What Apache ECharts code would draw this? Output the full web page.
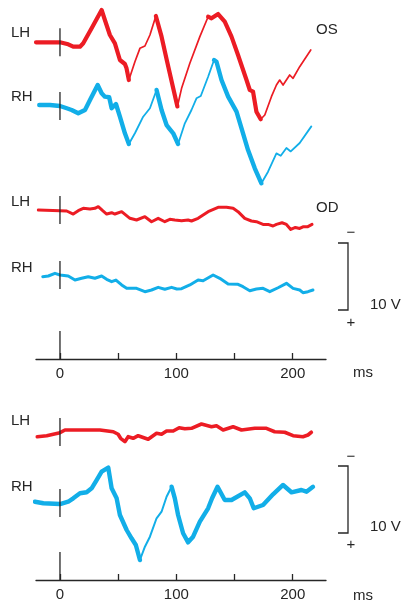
<!DOCTYPE html>
<html>
<head>
<meta charset="utf-8">
<script src="https://cdn.jsdelivr.net/npm/echarts@6/dist/echarts.min.js"></script>
<style>
  html, body { margin: 0; padding: 0; background: #fff; }
  #chart { width: 404px; height: 603px; }
</style>
</head>
<body>
<div id="chart"></div>
<script>
// Time axis (ms) and tick labels
const timeTicks = [0, 50, 100, 150, 200];
const timeLabels = [0, 100, 200];

// Amplitudes in microvolts; positive values plot downward (negative-up convention)
// Panel 1 – OS, left hemisphere
const osLhMs = [-20.6, 0, 7.1, 11.4, 17.2, 20.0, 27.2, 35.8, 38.6, 42.9, 47.2, 51.5, 55.8, 57.2, 59.2, 64.4, 68.7, 73.0, 77.3, 82.4, 87.3, 92.1, 97.3, 100.9, 104.5, 111.6, 120.2, 127.3, 130.2, 135.9, 141.6, 147.4, 153.0, 160.3, 163.1, 165.9, 168.8, 172.5, 176.0, 181.7, 186.0, 188.8, 191.7, 197.4, 200.3, 206.0, 215.5];
const osLhUv = [0, 0, 0.3, 0.66, 0.66, 0.15, -2.09, -4.82, -3.33, -1.09, 0.15, 2.64, 3.24, 3.88, 5.63, 2.90, 0.90, 0.55, -1.09, -3.93, -0.84, 2.90, 6.87, 9.58, 6.87, 3.13, -0.84, -3.82, -3.58, -4.22, -3.07, -0.84, 1.90, 5.63, 7.12, 7.37, 10.36, 11.49, 10.85, 8.12, 6.37, 5.63, 6.37, 4.88, 5.37, 3.64, 1.15];
// Panel 1 – OS, right hemisphere
const osRhMs = [-17.8, -8.6, 0, 5.8, 10.0, 15.7, 21.5, 25.8, 32.4, 35.8, 38.6, 42.3, 44.4, 48.1, 51.5, 55.8, 59.2, 64.4, 71.5, 77.3, 83.0, 87.3, 91.6, 97.3, 101.5, 107.3, 113.0, 117.3, 121.0, 127.3, 132.4, 134.5, 138.8, 144.5, 151.7, 157.3, 161.6, 167.4, 173.1, 178.8, 186.0, 189.7, 194.6, 198.3, 206.0, 216.0];
const osRhUv = [-0.15, -0.15, 0, 0.34, 0.60, 1.09, 0.60, -0.90, -3.13, -1.90, -1.39, -1.30, 0.34, -0.30, 1.60, 4.07, 5.67, 4.07, 1.60, 0.34, -2.39, 0.60, 2.84, 4.07, 5.67, 2.58, 0.60, -1.15, -1.49, -4.37, -6.87, -6.61, -3.88, -1.39, 0.85, 4.07, 6.57, 9.30, 11.54, 9.81, 7.07, 7.42, 6.27, 6.78, 5.52, 3.04];
// Panel 1 – OD, left hemisphere
const odLhMs = [-18.6, 0, 5.8, 11.4, 15.7, 20.0, 25.8, 30.0, 32.9, 36.7, 40.1, 44.4, 47.2, 53.0, 60.1, 65.8, 73.0, 78.7, 84.4, 90.1, 94.4, 98.7, 104.5, 110.1, 113.0, 118.7, 127.3, 135.9, 143.1, 148.8, 153.0, 158.8, 164.5, 168.8, 174.5, 178.8, 183.1, 186.0, 190.8, 194.6, 198.3, 202.3, 206.0, 208.8, 212.6, 216.6];
const odLhUv = [0, 0.1, 0.15, 0.60, 0.10, -0.25, -0.15, -0.25, -0.49, 0.10, 0.60, 0.40, 0.60, 0.25, 1.24, 1.49, 1.00, 1.75, 1.24, 1.75, 1.39, 1.49, 1.60, 1.49, 1.64, 1.24, 0.25, -0.40, -0.40, -0.25, 0.25, 1.24, 1.64, 1.75, 2.15, 2.15, 2.39, 2.15, 1.90, 2.15, 2.90, 2.60, 2.75, 2.51, 2.51, 2.15];
// Panel 1 – OD, right hemisphere
const odRhMs = [-14.8, -10.0, -4.3, 0, 7.1, 12.9, 18.6, 24.3, 30.0, 35.8, 40.1, 44.4, 48.1, 53.0, 57.3, 65.8, 73.0, 78.7, 84.4, 90.1, 95.9, 100.4, 104.5, 111.6, 118.7, 123.0, 131.6, 137.3, 144.5, 153.0, 157.3, 163.1, 168.8, 174.5, 180.3, 187.4, 194.6, 200.3, 206.0, 208.8, 213.1, 217.4];
const odRhUv = [0.25, 0.15, -0.25, 0, 0.15, 0.75, 0.49, 0.25, 0.49, 0.15, 0.64, 1.00, 0.75, 1.49, 1.99, 1.99, 2.49, 2.24, 1.84, 2.13, 1.84, 2.09, 2.04, 1.49, 0.75, 0.85, 0, 0.49, 1.34, 1.39, 1.75, 2.34, 2.09, 1.99, 2.49, 1.90, 1.24, 1.99, 2.24, 2.64, 2.49, 2.24];
// Panel 2 – left hemisphere
const p2LhMs = [-19.5, -11.4, 0, 4.3, 17.2, 34.3, 45.8, 50.0, 52.1, 55.8, 58.6, 62.9, 67.2, 75.8, 83.0, 87.3, 91.6, 97.3, 102.4, 107.3, 113.0, 121.6, 130.2, 134.5, 140.2, 148.8, 156.0, 167.4, 177.4, 184.5, 193.1, 200.3, 208.8, 213.1, 216.0];
const p2LhUv = [0.70, 0.55, 0.10, -0.30, -0.30, -0.30, -0.04, 0.34, 0.94, 1.45, 0.70, 0.94, 0.55, 1.09, 0.19, 0.34, -0.15, -0.15, -0.64, -0.49, -0.55, -1.19, -0.79, -0.94, -0.30, -0.79, -0.30, -0.55, -0.55, -0.04, 0.04, 0.55, 0.70, 0.45, 0.04];
// Panel 2 – right hemisphere
const p2RhMs = [-21.5, -14.3, 0, 7.1, 11.4, 17.2, 22.9, 27.2, 31.5, 35.8, 41.5, 44.4, 48.7, 51.5, 57.3, 61.5, 65.2, 68.7, 73.0, 77.3, 83.0, 87.3, 91.6, 95.9, 98.7, 101.5, 105.8, 110.1, 114.4, 120.2, 127.3, 130.7, 135.4, 141.6, 147.4, 158.8, 163.1, 166.5, 174.5, 183.1, 191.7, 198.9, 207.5, 211.8, 217.4];
const p2RhUv = [-0.19, 0.04, 0.15, -0.19, -0.70, -1.45, -1.60, -2.19, -3.43, -4.67, -5.28, -2.19, -0.70, 1.79, 4.03, 5.27, 6.27, 8.51, 6.52, 5.03, 2.28, 1.30, -0.94, -2.43, -0.70, 1.79, 4.52, 5.87, 5.03, 2.79, 0.79, -0.70, -2.43, -0.45, -0.45, -1.60, -0.70, 0.79, 0.30, -1.30, -2.69, -1.60, -1.94, -1.69, -2.43];

// Calibration bar height (microvolts)
const calibUv = 10;

// ---- layout & style ----
const RED = '#ec1c24';
const BLUE = '#12aee8';
const INK = '#262626';
const FONT = '"Liberation Sans", Arial, Helvetica, sans-serif';
const X_MIN = -20.6, X_MAX = 228.6;
const PLOT_LEFT = 36, PLOT_WIDTH = 290;
const PX_PER_UV = 6.7;
const Y_SPAN = 12;

const traces = [
  { ms: osLhMs, uv: osLhUv, color: RED,  base: 42.3,  thick: 4.2, thin: 1.7, thinSpans: [[59.2, 82.4], [100.9, 127.3], [172.5, 230]] },
  { ms: osRhMs, uv: osRhUv, color: BLUE, base: 106,   thick: 4.4, thin: 1.8, thinSpans: [[59.2, 83.0], [101.5, 132.4], [173.1, 230]] },
  { ms: odLhMs, uv: odLhUv, color: RED,  base: 210,   thick: 3.0, thin: 3.0, thinSpans: [] },
  { ms: odRhMs, uv: odRhUv, color: BLUE, base: 275,   thick: 3.0, thin: 3.0, thinSpans: [] },
  { ms: p2LhMs, uv: p2LhUv, color: RED,  base: 432,   thick: 3.6, thin: 3.6, thinSpans: [] },
  { ms: p2RhMs, uv: p2RhUv, color: BLUE, base: 503,   thick: 4.4, thin: 2.0, thinSpans: [[68.7, 95.9]] }
];

const grid = [], xAxis = [], yAxis = [], series = [];

function hiddenX(k, min, max) { return { type: 'value', gridIndex: k, show: false, min: min, max: max }; }
function hiddenY(k, min, max, inverse) { return { type: 'value', gridIndex: k, show: false, min: min, max: max, inverse: !!inverse }; }

// one grid per trace, all sharing the same µV scale
traces.forEach(function (t) {
  const k = grid.length;
  grid.push({ left: PLOT_LEFT, width: PLOT_WIDTH, top: t.base - Y_SPAN * PX_PER_UV, height: 2 * Y_SPAN * PX_PER_UV, outerBoundsMode: 'none', containLabel: false });
  xAxis.push(hiddenX(k, X_MIN, X_MAX));
  yAxis.push(hiddenY(k, -Y_SPAN, Y_SPAN, true));

  // split the waveform into runs of thick / thin pen
  const isThin = function (m) { return t.thinSpans.some(function (s) { return m >= s[0] && m <= s[1]; }); };
  let run = [[t.ms[0], t.uv[0]]];
  let runThin = isThin((t.ms[0] + t.ms[1]) / 2);
  const flush = function () {
    series.push({
      type: 'line', xAxisIndex: k, yAxisIndex: k, data: run, showSymbol: false, silent: true,
      clip: false, animation: false, z: 2,
      lineStyle: { color: t.color, width: runThin ? t.thin : t.thick, cap: 'round', join: 'round' }
    });
  };
  for (let i = 1; i < t.ms.length; i++) {
    const thin = isThin((t.ms[i - 1] + t.ms[i]) / 2);
    if (thin !== runThin) {
      flush();
      run = [[t.ms[i - 1], t.uv[i - 1]]];
      runThin = thin;
    }
    run.push([t.ms[i], t.uv[i]]);
  }
  flush();

  // stimulus-onset marker at t = 0
  series.push({
    type: 'line', xAxisIndex: k, yAxisIndex: k, data: [[0, -2.1], [0, 2.1]], showSymbol: false,
    silent: true, clip: false, animation: false, z: 3,
    lineStyle: { color: INK, width: 1.3 }
  });
});

// time axes (one per panel) with a tall onset tick
[{ top: 331, height: 28 }, { top: 552, height: 28 }].forEach(function (a) {
  const k = grid.length;
  grid.push({ left: PLOT_LEFT, width: PLOT_WIDTH, top: a.top, height: a.height, outerBoundsMode: 'none', containLabel: false });
  xAxis.push({
    type: 'value', gridIndex: k, min: X_MIN, max: X_MAX, position: 'bottom',
    splitLine: { show: false },
    axisLine: { show: true, onZero: false, lineStyle: { color: INK, width: 1.3 } },
    axisTick: { show: true, inside: true, length: 6, customValues: timeTicks, lineStyle: { color: INK, width: 1.3 } },
    axisLabel: { show: true, customValues: timeLabels, color: INK, fontSize: 15, fontFamily: FONT, margin: 7 }
  });
  yAxis.push(hiddenY(k, 0, 1));
  series.push({
    type: 'line', xAxisIndex: k, yAxisIndex: k, data: [[0, 0], [0, 1]], showSymbol: false,
    silent: true, animation: false, clip: false, lineStyle: { color: INK, width: 1.3 }
  });
});

// calibration brackets (10 µV)
[243, 466].forEach(function (top) {
  const k = grid.length;
  grid.push({ left: 338, width: 10, top: top, height: calibUv * PX_PER_UV, outerBoundsMode: 'none', containLabel: false });
  xAxis.push(hiddenX(k, 0, 1));
  yAxis.push(hiddenY(k, 0, calibUv, true));
  series.push({
    type: 'line', xAxisIndex: k, yAxisIndex: k,
    data: [[0, 0], [1, 0], [1, calibUv], [0, calibUv]], showSymbol: false,
    silent: true, animation: false, clip: false,
    lineStyle: { color: INK, width: 1.3, join: 'miter' }
  });
});

function txt(s, x, y, align) {
  return {
    type: 'text', x: x, y: y, silent: true,
    style: { text: s, fill: INK, font: '15px ' + FONT, textAlign: align || 'left', textVerticalAlign: 'middle' }
  };
}

const graphic = [
  txt('LH', 11, 33), txt('RH', 11, 97), txt('OS', 316, 30),
  txt('LH', 11, 202), txt('RH', 11, 268), txt('OD', 316, 208),
  txt('−', 351, 233, 'center'), txt('+', 351, 323, 'center'), txt('10 V', 370, 305),
  txt('ms', 353, 373),
  txt('LH', 11, 421), txt('RH', 11, 487),
  txt('−', 351, 457, 'center'), txt('+', 351, 545, 'center'), txt('10 V', 370, 527),
  txt('ms', 353, 596)
];

const chart = echarts.init(document.getElementById('chart'), null, { renderer: 'canvas' });
chart.setOption({
  animation: false,
  backgroundColor: '#fff',
  grid: grid, xAxis: xAxis, yAxis: yAxis, series: series, graphic: graphic
});
</script>
</body>
</html>
